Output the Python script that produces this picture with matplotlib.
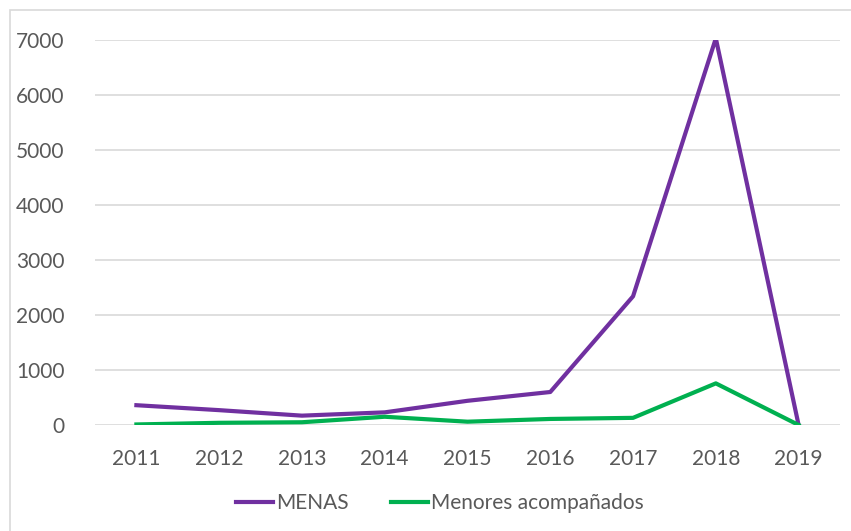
import matplotlib.pyplot as plt
from matplotlib.patches import Rectangle

years = ["2011", "2012", "2013", "2014", "2015", "2016", "2017", "2018", "2019"]
menas = [360, 270, 170, 230, 440, 600, 2340, 7030, 0]
acompanados = [10, 40, 50, 150, 60, 110, 130, 757, 0]

plt.rcParams['font.family'] = ['Lato', 'DejaVu Sans']
txt = '#595959'

fig = plt.figure(figsize=(8.51, 5.31), dpi=100)
ax = fig.add_axes([95 / 851, (531 - 425) / 531, 745 / 851, 385 / 531])

x = range(len(years))
ax.plot(x, menas, color='#7030A0', linewidth=3, label='MENAS', solid_joinstyle='round')
ax.plot(x, acompanados, color='#00B050', linewidth=3, label='Menores acompañados',
        solid_joinstyle='round')

ax.set_xlim(-0.5, len(years) - 0.5)
ax.set_ylim(0, 7000)
ax.set_yticks(range(0, 7001, 1000))
ax.set_xticks(list(x))
ax.set_xticklabels(years)
ax.grid(axis='y', color='#D9D9D9', linewidth=1.2)
ax.set_axisbelow(True)
for s in ax.spines.values():
    s.set_visible(False)
ax.tick_params(length=0, labelsize=15, labelcolor=txt)
ax.tick_params(axis='y', pad=22)
ax.tick_params(axis='x', pad=17)

ax.legend(loc='center', bbox_to_anchor=(440 / 851, (531 - 503) / 531),
          bbox_transform=fig.transFigure, ncol=2, frameon=False, fontsize=15,
          labelcolor=txt, handlelength=1.8, handletextpad=0.15, columnspacing=2.0)

fig.patches.append(Rectangle((10 / 851, -0.05), 1.0, (531 - 10) / 531 + 0.05,
                             transform=fig.transFigure, fill=False,
                             edgecolor='#D9D9D9', linewidth=1.2))

fig.savefig('out.png', dpi=100)
